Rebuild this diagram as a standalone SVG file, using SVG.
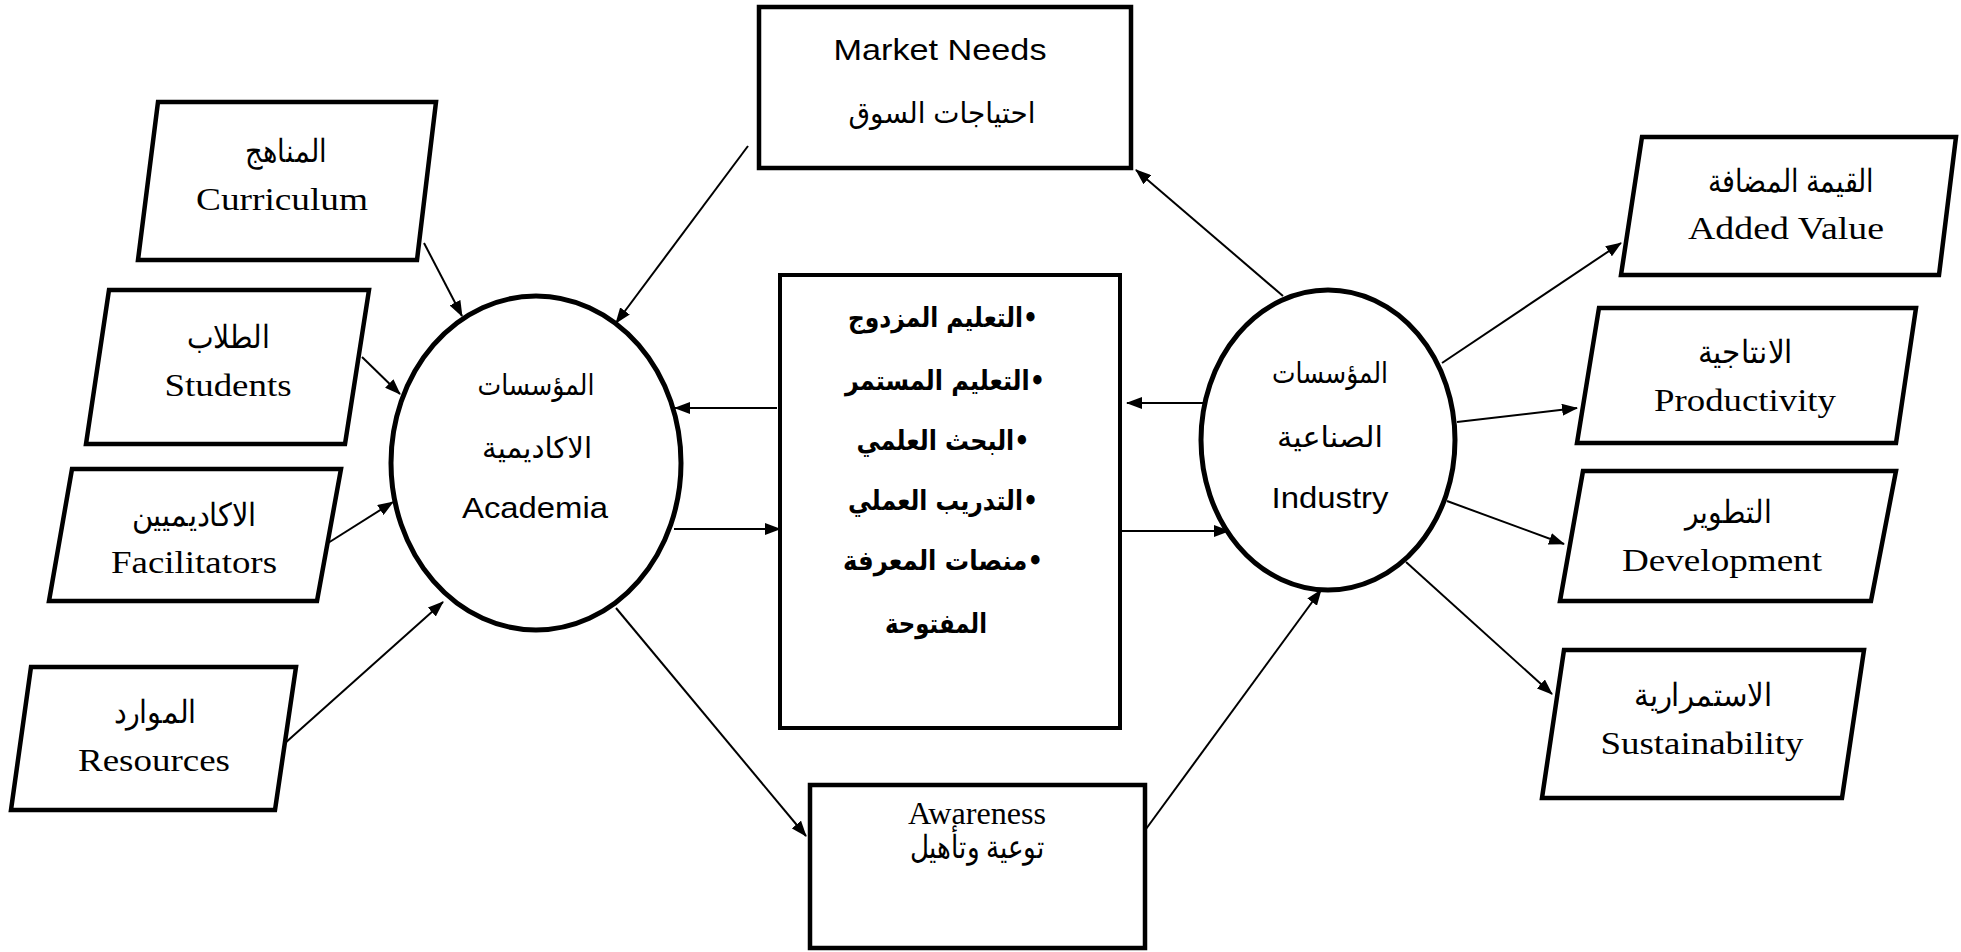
<svg xmlns="http://www.w3.org/2000/svg" width="1961" height="952" viewBox="0 0 1961 952">
<style>
.box{fill:#fff;stroke:#000;stroke-width:4.5}
.ell{fill:#fff;stroke:#000;stroke-width:5}
.con{stroke:#000;stroke-width:2;fill:none}
.serif{font-family:"Liberation Serif","DejaVu Serif",serif;font-size:32px;fill:#000}
.sans{font-family:"Liberation Sans","DejaVu Sans",sans-serif;font-size:29px;fill:#000}
.arb{font-family:"DejaVu Sans","Liberation Sans",sans-serif;font-weight:bold;font-size:27px;fill:#000}
</style>
<defs>
<marker id="ah" markerUnits="userSpaceOnUse" markerWidth="16" markerHeight="12" refX="15" refY="6" orient="auto">
<path d="M0,0 L16,6 L0,12 Z" fill="#000"/>
</marker>
</defs>
<rect width="1961" height="952" fill="#fff"/>

<g id="connectors">
<line class="con" x1="424" y1="243" x2="462" y2="316" marker-end="url(#ah)"/>
<line class="con" x1="748" y1="146" x2="616" y2="323" marker-end="url(#ah)"/>
<line class="con" x1="362" y1="357" x2="400" y2="394" marker-end="url(#ah)"/>
<line class="con" x1="328" y1="543" x2="393" y2="502" marker-end="url(#ah)"/>
<line class="con" x1="284" y1="744" x2="443" y2="602" marker-end="url(#ah)"/>
<line class="con" x1="777" y1="408" x2="675" y2="408" marker-end="url(#ah)"/>
<line class="con" x1="674" y1="529" x2="780" y2="529" marker-end="url(#ah)"/>
<line class="con" x1="616" y1="608" x2="806" y2="836" marker-end="url(#ah)"/>
<line class="con" x1="1122" y1="531" x2="1229" y2="531" marker-end="url(#ah)"/>
<line class="con" x1="1209" y1="403" x2="1127" y2="403" marker-end="url(#ah)"/>
<line class="con" x1="1283" y1="296" x2="1136" y2="170" marker-end="url(#ah)"/>
<line class="con" x1="1442" y1="363" x2="1621" y2="243" marker-end="url(#ah)"/>
<line class="con" x1="1457" y1="422" x2="1577" y2="408" marker-end="url(#ah)"/>
<line class="con" x1="1447" y1="501" x2="1564" y2="544" marker-end="url(#ah)"/>
<line class="con" x1="1406" y1="562" x2="1552" y2="694" marker-end="url(#ah)"/>
<line class="con" x1="1146" y1="829" x2="1321" y2="590" marker-end="url(#ah)"/>
</g>

<g id="curriculum">
<polygon class="box" points="158,102 436,102 417,260 138,260"/>
<text class="serif" direction="rtl" x="286" y="162" text-anchor="middle" textLength="82" lengthAdjust="spacingAndGlyphs">المناهج</text>
<text class="serif" x="282" y="210" text-anchor="middle" textLength="172" lengthAdjust="spacingAndGlyphs">Curriculum</text>
</g>

<g id="students">
<polygon class="box" points="109,290 369,290 345,444 86,444"/>
<text class="serif" direction="rtl" x="228" y="348" text-anchor="middle" textLength="83" lengthAdjust="spacingAndGlyphs">الطلاب</text>
<text class="serif" x="228" y="396" text-anchor="middle" textLength="127" lengthAdjust="spacingAndGlyphs">Students</text>
</g>

<g id="facilitators">
<polygon class="box" points="72,469 341,469 317,601 49,601"/>
<text class="serif" direction="rtl" x="194" y="526" text-anchor="middle" textLength="125" lengthAdjust="spacingAndGlyphs">الاكاديميين</text>
<text class="serif" x="194" y="573" text-anchor="middle" textLength="166" lengthAdjust="spacingAndGlyphs">Facilitators</text>
</g>

<g id="resources">
<polygon class="box" points="31,667 296,667 275,810 11,810"/>
<text class="serif" direction="rtl" x="155" y="723" text-anchor="middle" textLength="83" lengthAdjust="spacingAndGlyphs">الموارد</text>
<text class="serif" x="154" y="771" text-anchor="middle" textLength="152" lengthAdjust="spacingAndGlyphs">Resources</text>
</g>

<g id="academia">
<ellipse class="ell" cx="536" cy="463" rx="145" ry="167"/>
<text class="sans" direction="rtl" x="536" y="395" text-anchor="middle" textLength="117" lengthAdjust="spacingAndGlyphs">المؤسسات</text>
<text class="sans" direction="rtl" x="537" y="458" text-anchor="middle" textLength="110" lengthAdjust="spacingAndGlyphs">الاكاديمية</text>
<text class="sans" x="535" y="518" text-anchor="middle" textLength="146" lengthAdjust="spacingAndGlyphs">Academia</text>
</g>

<g id="market-needs">
<rect class="box" x="759" y="7" width="372" height="161"/>
<text class="sans" x="940" y="60" text-anchor="middle" textLength="213" lengthAdjust="spacingAndGlyphs">Market Needs</text>
<text class="sans" direction="rtl" x="942" y="123" text-anchor="middle" textLength="187" lengthAdjust="spacingAndGlyphs">احتياجات السوق</text>
</g>

<g id="programs">
<rect class="box" x="780" y="275" width="340" height="453" style="stroke-width:4"/>
<text class="arb" direction="rtl" x="943" y="327" text-anchor="middle" textLength="190" lengthAdjust="spacingAndGlyphs">•التعليم المزدوج</text>
<text class="arb" direction="rtl" x="945" y="390" text-anchor="middle" textLength="200" lengthAdjust="spacingAndGlyphs">•التعليم المستمر</text>
<text class="arb" direction="rtl" x="943" y="450" text-anchor="middle" textLength="173" lengthAdjust="spacingAndGlyphs">•البحث العلمي</text>
<text class="arb" direction="rtl" x="943" y="510" text-anchor="middle" textLength="190" lengthAdjust="spacingAndGlyphs">•التدريب العملي</text>
<text class="arb" direction="rtl" x="943" y="570" text-anchor="middle" textLength="200" lengthAdjust="spacingAndGlyphs">•منصات المعرفة</text>
<text class="arb" direction="rtl" x="936" y="633" text-anchor="middle" textLength="102" lengthAdjust="spacingAndGlyphs">المفتوحة</text>
</g>

<g id="awareness">
<rect class="box" x="810" y="785" width="335" height="163"/>
<text class="serif" x="977" y="824" text-anchor="middle" textLength="138" lengthAdjust="spacingAndGlyphs">Awareness</text>
<text class="serif" direction="rtl" x="977" y="858" text-anchor="middle" textLength="135" lengthAdjust="spacingAndGlyphs">توعية وتأهيل</text>
</g>

<g id="industry">
<ellipse class="ell" cx="1328" cy="440" rx="127" ry="150"/>
<text class="sans" direction="rtl" x="1330" y="383" text-anchor="middle" textLength="116" lengthAdjust="spacingAndGlyphs">المؤسسات</text>
<text class="sans" direction="rtl" x="1330" y="447" text-anchor="middle" textLength="106" lengthAdjust="spacingAndGlyphs">الصناعية</text>
<text class="sans" x="1330" y="508" text-anchor="middle" textLength="117" lengthAdjust="spacingAndGlyphs">Industry</text>
</g>

<g id="added-value">
<polygon class="box" points="1642,137 1956,137 1939,275 1621,275"/>
<text class="serif" direction="rtl" x="1791" y="192" text-anchor="middle" textLength="166" lengthAdjust="spacingAndGlyphs">القيمة المضافة</text>
<text class="serif" x="1786" y="239" text-anchor="middle" textLength="196" lengthAdjust="spacingAndGlyphs">Added Value</text>
</g>

<g id="productivity">
<polygon class="box" points="1599,308 1916,308 1896,443 1577,443"/>
<text class="serif" direction="rtl" x="1745" y="363" text-anchor="middle" textLength="95" lengthAdjust="spacingAndGlyphs">الانتاجية</text>
<text class="serif" x="1745" y="411" text-anchor="middle" textLength="182" lengthAdjust="spacingAndGlyphs">Productivity</text>
</g>

<g id="development">
<polygon class="box" points="1583,471 1896,471 1871,601 1560,601"/>
<text class="serif" direction="rtl" x="1728" y="523" text-anchor="middle" textLength="87" lengthAdjust="spacingAndGlyphs">التطوير</text>
<text class="serif" x="1722" y="571" text-anchor="middle" textLength="200" lengthAdjust="spacingAndGlyphs">Development</text>
</g>

<g id="sustainability">
<polygon class="box" points="1564,650 1864,650 1842,798 1542,798"/>
<text class="serif" direction="rtl" x="1703" y="706" text-anchor="middle" textLength="138" lengthAdjust="spacingAndGlyphs">الاستمرارية</text>
<text class="serif" x="1702" y="754" text-anchor="middle" textLength="203" lengthAdjust="spacingAndGlyphs">Sustainability</text>
</g>
</svg>
